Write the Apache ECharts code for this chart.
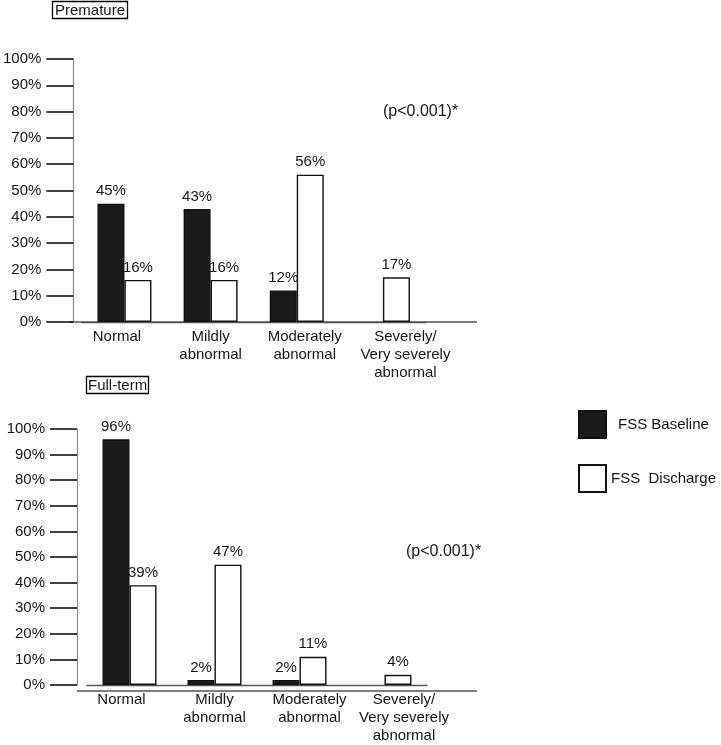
<!DOCTYPE html>
<html>
<head>
<meta charset="utf-8">
<script src="https://cdn.jsdelivr.net/npm/echarts@6/dist/echarts.min.js"></script>
<style>html,body{margin:0;padding:0;background:#fff}#c{width:721px;height:745px}</style>
</head>
<body>
<div id="c"></div>
<script>
// ---- data ----
const categories = ['Normal', 'Mildly\nabnormal', 'Moderately\nabnormal', 'Severely/\nVery severely\nabnormal'];
const seriesNames = ['FSS Baseline', 'FSS  Discharge'];
const prematureBaseline = [45, 43, 12, 0];
const prematureDischarge = [16, 16, 56, 17];
const fulltermBaseline = [96, 2, 2, 0];
const fulltermDischarge = [39, 47, 11, 4];
const panelTitles = ['Premature', 'Full-term'];
const pValueText = '(p<0.001)*';

// ---- layout ----
const FONT = '"Liberation Sans", Arial, sans-serif';
const TXT = '#161616';
const FS = 15;
const grids = [
  { left: 78, top: 59, width: 348, height: 263, axisX: 70, lineEnd: 477, shifts: [-7.5, 0, 8, 22.5] },
  { left: 87, top: 429, width: 340, height: 262, axisX: 77, lineEnd: 477, shifts: [-8, 0, 10, 19.5] }
];

function richFor(shifts) {
  const r = {};
  shifts.forEach((d, i) => {
    r['s' + i] = {
      fontFamily: FONT, fontSize: FS, color: TXT, lineHeight: 18,
      padding: d >= 0 ? [0, 0, 0, 2 * d] : [0, -2 * d, 0, 0]
    };
  });
  return r;
}

const option = {
  animation: false,
  backgroundColor: '#fff',
  textStyle: { fontFamily: FONT },
  title: [
    { text: panelTitles[0], left: 52, top: 1, padding: [2, 3, 1, 3], borderColor: '#000', borderWidth: 1.3,
      textStyle: { fontFamily: FONT, fontSize: 15, fontWeight: 'normal', color: TXT } },
    { text: panelTitles[1], left: 86, top: 376, padding: [2, 2, 1, 2], borderColor: '#000', borderWidth: 1.3,
      textStyle: { fontFamily: FONT, fontSize: 15, fontWeight: 'normal', color: TXT } },
    { text: pValueText, left: 383, top: 104, padding: 0,
      textStyle: { fontFamily: FONT, fontSize: 16, fontWeight: 'normal', color: TXT } },
    { text: pValueText, left: 406, top: 544, padding: 0,
      textStyle: { fontFamily: FONT, fontSize: 16, fontWeight: 'normal', color: TXT } }
  ],
  legend: {
    data: seriesNames,
    orient: 'vertical', left: 578, top: 410, padding: 0,
    itemWidth: 27, itemHeight: 27, itemGap: 25, icon: 'rect',
    formatter: n => n === seriesNames[0] ? '{b|' + n + '}' : n,
    textStyle: { fontFamily: FONT, fontSize: FS, color: TXT,
      rich: { b: { fontFamily: FONT, fontSize: FS, color: TXT, padding: [0, 0, 0, 7] } } }
  },
  grid: grids.map(g => ({ left: g.left, top: g.top, width: g.width, height: g.height })),
  xAxis: grids.map((g, gi) => ({
    type: 'category', gridIndex: gi, data: categories,
    axisLine: { lineStyle: { color: '#555', width: 1.3 } },
    axisTick: { show: false },
    axisLabel: {
      interval: 0, margin: 6, fontFamily: FONT, fontSize: FS, color: TXT, lineHeight: 18,
      formatter: (v, i) => v.split('\n').map(l => '{s' + i + '|' + l + '}').join('\n'),
      rich: richFor(g.shifts)
    }
  })),
  yAxis: grids.map((g, gi) => ({
    type: 'value', gridIndex: gi, min: 0, max: 100, interval: 10,
    offset: g.left - g.axisX,
    splitLine: { show: false },
    axisLine: { show: true, lineStyle: { color: '#8a8a8a', width: 1.2 } },
    axisTick: { show: true, length: 27, lineStyle: { color: '#111', width: 1.6 } },
    axisLabel: { margin: 32, fontFamily: FONT, fontSize: FS, color: TXT, formatter: '{value}%' }
  })),
  series: [
    [prematureBaseline, prematureDischarge],
    [fulltermBaseline, fulltermDischarge]
  ].flatMap((pair, gi) => pair.map((vals, si) => ({
    type: 'bar', name: seriesNames[si], xAxisIndex: gi, yAxisIndex: gi,
    data: vals.map(v => v > 0 ? v : null),
    barWidth: 27, barGap: '0%',
    itemStyle: { color: si === 0 ? '#1b1b1b' : '#ffffff', borderColor: '#111', borderWidth: 1.4 },
    label: { show: true, position: 'top', distance: 5, fontFamily: FONT, fontSize: FS, color: TXT,
      formatter: p => p.value > 0 ? p.value + '%' : '' }
  }))),
  graphic: grids.map(g => ({
    type: 'line', silent: true,
    shape: { x1: g.axisX, y1: g.top + g.height, x2: g.lineEnd, y2: g.top + g.height },
    style: { stroke: '#555', lineWidth: 1.3 }
  }))
};

const chart = echarts.init(document.getElementById('c'), null, { renderer: 'canvas' });
chart.setOption(option);
</script>
</body>
</html>
